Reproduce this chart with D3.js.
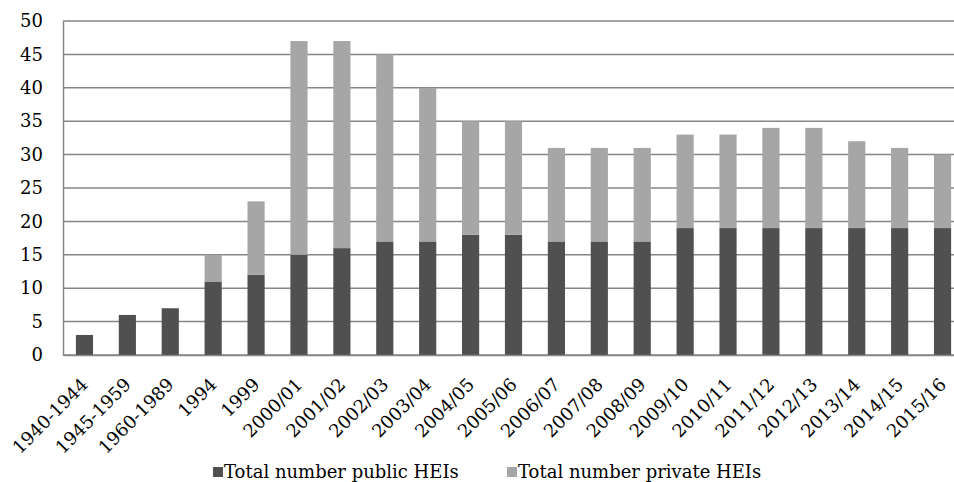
<!DOCTYPE html>
<html>
<head>
<meta charset="utf-8">
<script src="https://cdn.jsdelivr.net/npm/d3@7"></script>
<style>
  body { margin: 0; background: #fff; }
  svg { display: block; font-family: "DejaVu Serif", serif; }
</style>
</head>
<body>
<div id="chart"></div>
<script>
// categories and series
var periods = ["1940-1944", "1945-1959", "1960-1989", "1994", "1999", "2000/01", "2001/02",
  "2002/03", "2003/04", "2004/05", "2005/06", "2006/07", "2007/08", "2008/09", "2009/10",
  "2010/11", "2011/12", "2012/13", "2013/14", "2014/15", "2015/16"];
var publicHEIs = [3, 6, 7, 11, 12, 15, 16, 17, 17, 18, 18, 17, 17, 17, 19, 19, 19, 19, 19, 19, 19];
var privateHEIs = [0, 0, 0, 4, 11, 32, 31, 28, 23, 17, 17, 14, 14, 14, 14, 14, 15, 15, 13, 12, 11];
var yTicks = [0, 5, 10, 15, 20, 25, 30, 35, 40, 45, 50];
var seriesNames = ["Total number public HEIs", "Total number private HEIs"];
var colors = ["#505050", "#a6a6a6"];

var svgWidth = 954;
var svgHeight = 482;
var margin = { top: 21, right: -10, bottom: 127, left: 63 };
var chartWidth = svgWidth - margin.left - margin.right;
var chartHeight = svgHeight - margin.top - margin.bottom;

var svg = d3.select("#chart")
  .append("svg")
  .attr("width", svgWidth)
  .attr("height", svgHeight);

var chartGroup = svg.append("g")
  .attr("transform", `translate(${margin.left}, ${margin.top})`);

var rows = periods.map(function (p, i) {
  return { period: p, pub: publicHEIs[i], priv: privateHEIs[i] };
});
var stacked = d3.stack().keys(["pub", "priv"])(rows);

var xScale = d3.scaleBand()
  .domain(periods)
  .range([0, chartWidth])
  .paddingInner(0.6)
  .paddingOuter(0.3);

var yScale = d3.scaleLinear()
  .domain([0, 50])
  .range([chartHeight, 0]);

// gridlines
chartGroup.append("g")
  .selectAll("line")
  .data(yTicks)
  .enter()
  .append("line")
  .attr("x1", 0)
  .attr("x2", chartWidth)
  .attr("y1", d => yScale(d))
  .attr("y2", d => yScale(d))
  .attr("stroke", "#868686")
  .attr("stroke-width", 1.5);

// bars
chartGroup.append("g")
  .selectAll("g")
  .data(stacked)
  .enter()
  .append("g")
  .attr("fill", (d, i) => colors[i])
  .selectAll("rect")
  .data(d => d)
  .enter()
  .append("rect")
  .attr("x", d => xScale(d.data.period))
  .attr("y", d => yScale(d[1]))
  .attr("width", xScale.bandwidth())
  .attr("height", d => yScale(d[0]) - yScale(d[1]));

// left axis
var leftAxis = d3.axisLeft(yScale).tickValues(yTicks).tickSize(0).tickPadding(20);
var yAxis = chartGroup.append("g").call(leftAxis);
yAxis.select(".domain").attr("stroke", "#868686").attr("stroke-width", 1.5);
yAxis.selectAll("text")
  .attr("font-family", "DejaVu Serif")
  .attr("font-size", 18)
  .attr("fill", "#000");

// bottom axis
var bottomAxis = d3.axisBottom(xScale).tickSize(0).tickPadding(10);
var xAxis = chartGroup.append("g")
  .attr("transform", `translate(0, ${chartHeight})`)
  .call(bottomAxis);
xAxis.select(".domain").attr("stroke", "#868686").attr("stroke-width", 1.5);
xAxis.selectAll("text")
  .attr("font-family", "DejaVu Serif")
  .attr("font-size", 18)
  .attr("fill", "#000")
  .attr("text-anchor", "end")
  .attr("dy", "0.6em")
  .attr("transform", "translate(-10,16) rotate(-45)");

// legend
var legendX = [213, 507];
var legend = svg.append("g")
  .selectAll("g")
  .data(seriesNames)
  .enter()
  .append("g")
  .attr("transform", (d, i) => `translate(${legendX[i]}, 467)`);

legend.append("rect")
  .attr("width", 10)
  .attr("height", 10)
  .attr("fill", (d, i) => colors[i]);

legend.append("text")
  .attr("x", 11)
  .attr("y", 11)
  .attr("font-size", 18)
  .attr("fill", "#000")
  .text(d => d);
</script>
</body>
</html>
